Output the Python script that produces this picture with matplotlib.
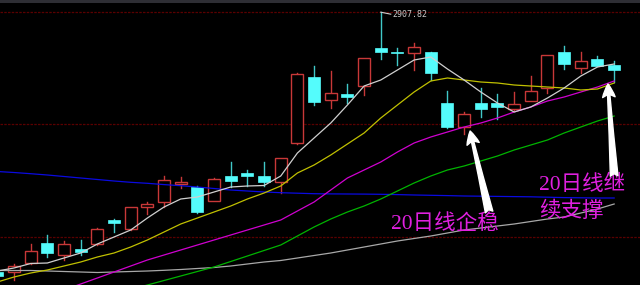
import numpy as np
import matplotlib
matplotlib.use('Agg')
import matplotlib.pyplot as plt
from matplotlib.patches import Rectangle, FancyArrowPatch

# K线数据 (开, 高, 低, 收)
opens = [2648, 2648, 2656.7, 2676.7, 2664.7, 2671.3, 2675.7, 2700, 2690.7, 2713,
         2718.3, 2735.7, 2733, 2719.3, 2744, 2746.7, 2744, 2737.7, 2776.7, 2843.3,
         2820, 2826.3, 2834, 2872.3, 2868.3, 2866.7, 2868.3, 2816.7, 2792.7, 2816.7,
         2816.7, 2810.7, 2819.3, 2832.3, 2867.7, 2851.7, 2860.7, 2855]
highs = [2650, 2656, 2676, 2685, 2679.3, 2679.7, 2692, 2701, 2713.5, 2718.3,
         2744.3, 2742.7, 2734, 2742, 2757.7, 2750, 2757.7, 2762.5, 2846.8, 2854.3,
         2849.3, 2835.7, 2862, 2907.82, 2872.3, 2876.7, 2868.5, 2829, 2808.3, 2832.3,
         2825.7, 2827.7, 2844, 2865.5, 2874, 2868.3, 2864, 2859]
lows = [2636, 2640, 2656, 2663, 2660, 2665, 2675.5, 2688, 2690.5, 2706,
        2713.3, 2731.7, 2707.3, 2719, 2733.3, 2734, 2734, 2726.7, 2776.2, 2815,
        2811.7, 2817.3, 2825, 2860.7, 2855, 2850, 2840, 2792.3, 2785.7, 2803.3,
        2800.7, 2810.5, 2819, 2827.3, 2850.7, 2846.7, 2854, 2838.3]
closes = [2644, 2654, 2669.3, 2666.7, 2676.3, 2667.7, 2690.7, 2697.5, 2712.7, 2715.7,
          2740, 2738, 2708.3, 2740.7, 2739, 2744, 2738.3, 2762, 2846.3, 2817.7,
          2827.3, 2822.7, 2861.7, 2868.3, 2866.7, 2872.7, 2846.7, 2793.3, 2805.7, 2811,
          2813.3, 2815.7, 2829.3, 2865, 2855.7, 2859, 2854.3, 2850]

# 均线
ma5 = [2649, 2652, 2656.5, 2657, 2662, 2667, 2676, 2683, 2690, 2702,
       2713, 2721, 2723, 2728, 2733, 2734, 2734.5, 2744, 2767, 2782,
       2797, 2815, 2834, 2840, 2850, 2860, 2863, 2851, 2840, 2828,
       2817, 2808, 2813, 2822, 2832, 2844, 2853, 2856]
ma10 = [2638, 2643, 2647, 2650, 2654, 2658, 2663, 2667, 2673, 2680,
        2688, 2696, 2702, 2708, 2714, 2721, 2727, 2734, 2747, 2755,
        2765, 2776, 2787, 2802, 2815, 2828, 2839, 2842, 2840, 2838,
        2837, 2835, 2834, 2833, 2832, 2830, 2831, 2837]
ma20 = [2606, 2612, 2618, 2624, 2630, 2636, 2642, 2648, 2654, 2660,
        2665, 2670, 2675, 2680, 2685, 2690, 2695, 2700, 2709, 2718,
        2730, 2742, 2750, 2758, 2768, 2777, 2783, 2788, 2793, 2797,
        2802, 2808, 2813, 2819, 2823, 2828, 2833, 2839]
ma30 = [2594, 2598.5, 2603, 2607.5, 2612, 2616.5, 2621, 2626, 2630.5, 2635,
        2639.5, 2644, 2648.5, 2653, 2658.5, 2664, 2669.5, 2675, 2684, 2693,
        2701, 2708, 2714, 2721, 2729, 2737, 2744, 2750, 2754, 2759,
        2764, 2770, 2775, 2780, 2787, 2793, 2799, 2804]
ma60 = [2649.5, 2649.5, 2649.5, 2649, 2648.5, 2648, 2647.5, 2648, 2648.5, 2649,
        2649.7, 2650.5, 2651.5, 2652.5, 2654, 2656, 2658, 2659.5, 2662, 2664.5,
        2667, 2670, 2673, 2676, 2679, 2681.5, 2684, 2687, 2690, 2692,
        2694, 2696, 2698.5, 2701, 2703, 2707, 2711, 2716]
ma_long = [2748.5, 2747.5, 2746.3, 2745, 2743.5, 2742, 2740.5, 2739, 2737.7, 2736.7,
           2735.4, 2734.3, 2733, 2731.5, 2730, 2729, 2728, 2727.3, 2726.8, 2726.3,
           2726.1, 2726, 2725.9, 2725.7, 2725.4, 2725, 2724.7, 2724.4, 2724, 2723.8,
           2723.6, 2723.4, 2723.2, 2722.8, 2722.4, 2722.2, 2722, 2722]

grid_levels = [2908, 2796, 2683]

RED = '#c83838'
CYAN = '#54fcfc'
MAGENTA = '#e020e0'

fig = plt.figure(figsize=(6.4, 2.85), dpi=100, facecolor='#2e2e34')
ax = fig.add_axes([0, 0, 1, 282 / 285])
ax.set_facecolor('black')
ax.set_xlim(0.16, 38.55)
ax.set_ylim(2635, 2917)
ax.set_xticks([])
ax.set_yticks([])
for s in ax.spines.values():
    s.set_visible(False)

for g in grid_levels:
    ax.axhline(g, color='#5a0000', lw=0.9, ls=(0, (2, 1)), zorder=1)

x = np.arange(len(opens))
w = 0.72
for i in x:
    o, h, l, c = opens[i], highs[i], lows[i], closes[i]
    top, bot = max(o, c), min(o, c)
    if c > o:
        ax.plot([i, i], [top, h], color=RED, lw=1.0, zorder=2)
        ax.plot([i, i], [l, bot], color=RED, lw=1.0, zorder=2)
        ax.add_patch(Rectangle((i - w / 2, bot), w, top - bot, facecolor='black',
                               edgecolor=RED, lw=1.0, zorder=2))
    else:
        ax.plot([i, i], [l, h], color='#40c8c8', lw=1.0, zorder=2)
        ax.add_patch(Rectangle((i - w / 2, bot), w, max(top - bot, 1.2),
                               facecolor=CYAN, edgecolor=CYAN, lw=0.5, zorder=2))

ax.plot(x, ma_long, color='#0a0ae0', lw=0.9, zorder=3)
ax.plot(x, ma60, color='#a8a8a8', lw=0.9, zorder=3)
ax.plot(x, ma30, color='#00b400', lw=0.9, zorder=3)
ax.plot(x, ma20, color='#d000d0', lw=0.9, zorder=3)
ax.plot(x, ma10, color='#c0c000', lw=0.9, zorder=3)
ax.plot(x, ma5, color='#d0d0d0', lw=0.9, zorder=3)

# 最高点标注
hi = int(np.argmax(highs))
ax.plot([hi, hi + 0.6], [highs[hi], highs[hi] - 2], color='#d0d0d0', lw=0.8, zorder=4)
ax.text(hi + 0.68, highs[hi] - 2, f'{highs[hi]:.2f}', color='#c8c8c8',
        fontsize=6, family='DejaVu Sans Mono', va='center', ha='left', zorder=4)

fam = ['Liberation Serif', 'Noto Sans CJK SC', 'DejaVu Sans']
ax.text(23.62, 2696, '20日线企稳', color=MAGENTA, fontsize=15.5, family=fam,
        ha='left', va='center', zorder=5)
ax.text(32.5, 2735.5, '20日线继', color=MAGENTA, fontsize=15.5, family=fam,
        ha='left', va='center', zorder=5)
ax.text(32.5, 2708, '续支撑', color=MAGENTA, fontsize=15.5, family=fam,
        ha='left', va='center', zorder=5)

style = 'fancy,head_length=0.95,head_width=0.9,tail_width=0.55'
for tail, tip in [((29.5, 2708), (28.36, 2789)), ((37.0, 2744), (36.63, 2836))]:
    ax.add_patch(FancyArrowPatch(tail, tip, arrowstyle=style, mutation_scale=10,
                                 color='white', shrinkA=0, shrinkB=0, zorder=6))

fig.savefig('out.png', dpi=100, facecolor=fig.get_facecolor())
